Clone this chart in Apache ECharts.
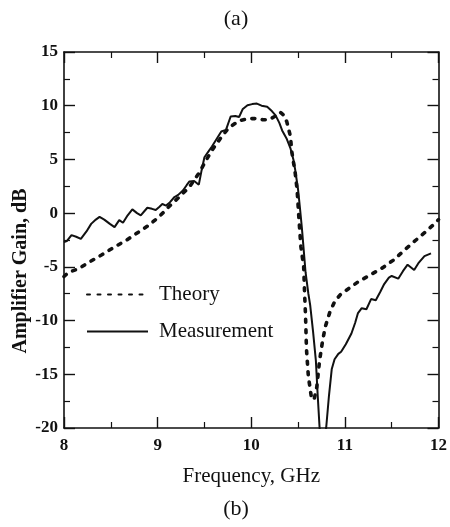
<!DOCTYPE html>
<html>
<head>
<meta charset="utf-8">
<script src="https://cdn.jsdelivr.net/npm/echarts@6/dist/echarts.min.js"></script>
<style>html,body{margin:0;padding:0;background:#fff}#c{width:450px;height:527px}</style>
</head>
<body>
<div id="c"></div>
<script>
// Frequency (GHz) / gain (dB)
var theoryFreq = [8.0,8.05,8.15,8.28,8.4,8.53,8.67,8.79,8.91,9.02,9.12,9.23,9.34,9.44,9.51,9.58,9.67,9.76,9.87,9.97,10.05,10.12,10.19,10.25,10.31,10.35,10.38,10.42,10.43,10.47,10.49,10.51,10.53,10.56,10.57,10.58,10.59,10.61,10.64,10.67,10.70,10.73,10.76,10.79,10.84,10.89,10.95,11.02,11.14,11.28,11.4,11.53,11.64,11.74,11.88,11.98,12.0];
var theoryGain = [-5.9,-5.5,-5.2,-4.5,-3.9,-3.2,-2.5,-1.8,-1.1,-0.3,0.6,1.5,2.45,3.7,4.8,5.85,6.95,7.95,8.6,8.8,8.8,8.7,8.7,9.0,9.4,9.1,8.5,7.1,5.9,3.7,2.15,-0.6,-3.1,-5.0,-7.5,-9.6,-12.7,-15.2,-17.0,-17.4,-16.2,-13.7,-12.0,-10.6,-9.2,-8.25,-7.6,-7.15,-6.4,-5.7,-5.1,-4.3,-3.4,-2.65,-1.6,-0.8,-0.6];

var measFreq = [8.0,8.03,8.08,8.13,8.18,8.24,8.29,8.34,8.38,8.43,8.49,8.54,8.59,8.63,8.68,8.73,8.78,8.82,8.86,8.89,8.94,8.98,9.02,9.05,9.09,9.13,9.18,9.22,9.27,9.31,9.34,9.39,9.44,9.47,9.5,9.54,9.58,9.63,9.68,9.73,9.78,9.83,9.87,9.91,9.96,10.01,10.06,10.11,10.17,10.22,10.26,10.3,10.33,10.38,10.42,10.45,10.47,10.5,10.52,10.54,10.56,10.58,10.61,10.63,10.66,10.69,10.71,10.73,10.75,10.78,10.80,10.83,10.86,10.89,10.93,10.96,11.01,11.07,11.11,11.14,11.18,11.23,11.28,11.33,11.38,11.42,11.47,11.5,11.57,11.62,11.67,11.74,11.79,11.85,11.92];
var measGain = [-2.7,-2.6,-2.05,-2.2,-2.4,-1.7,-1.0,-0.6,-0.35,-0.6,-1.0,-1.3,-0.65,-0.9,-0.2,0.35,0.0,-0.2,0.2,0.5,0.4,0.3,0.6,0.85,0.7,1.0,1.5,1.7,2.1,2.6,2.95,3.0,2.65,4.0,5.2,5.7,6.2,6.9,7.6,7.75,9.0,9.05,8.95,9.7,10.05,10.15,10.2,10.0,9.9,9.5,9.1,8.4,7.7,6.9,6.0,5.0,4.0,2.2,0.5,-1.3,-3.4,-5.5,-7.5,-8.6,-11.0,-13.7,-17.0,-20.0,-21.0,-21.0,-20.0,-17.0,-14.5,-13.6,-13.1,-12.9,-12.2,-11.2,-10.2,-9.3,-8.85,-8.95,-8.0,-8.1,-7.3,-6.6,-6.0,-5.85,-6.1,-5.4,-4.8,-5.3,-4.6,-4.0,-3.75];

var seriesNames = ['Theory', 'Measurement'];
var xTicks = [8, 9, 10, 11, 12];
var yTicks = [-20, -15, -10, -5, 0, 5, 10, 15];

function pairs(xs, ys) { return xs.map(function (x, i) { return [x, ys[i]]; }); }

var serif = 'Liberation Serif';
var ink = '#111';

var axisCommon = {
  type: 'value',
  axisLine: { show: true, onZero: false, lineStyle: { color: ink, width: 1.6 } },
  axisTick: { show: true, inside: true, length: 11, lineStyle: { color: ink, width: 1.4 } },
  minorTick: { show: true, splitNumber: 2, length: 6, lineStyle: { color: ink, width: 1.2 } },
  splitLine: { show: false },
  minorSplitLine: { show: false }
};

var chart = echarts.init(document.getElementById('c'), null, { renderer: 'canvas' });
chart.setOption({
  backgroundColor: '#fff',
  animation: false,
  textStyle: { fontFamily: serif },
  grid: { left: 64, right: 9, top: 52, bottom: 99, containLabel: false },
  xAxis: [
    Object.assign({}, axisCommon, {
      position: 'bottom', min: xTicks[0], max: xTicks[xTicks.length - 1], interval: 1,
      name: 'Frequency, GHz', nameLocation: 'middle', nameGap: 38,
      nameTextStyle: { fontFamily: serif, fontSize: 21, color: ink },
      axisLabel: { margin: 9, fontFamily: serif, fontSize: 17, fontWeight: 'bold', color: ink }
    }),
    Object.assign({}, axisCommon, {
      position: 'top', min: xTicks[0], max: xTicks[xTicks.length - 1], interval: 1,
      axisLabel: { show: false }
    })
  ],
  yAxis: [
    Object.assign({}, axisCommon, {
      position: 'left', min: yTicks[0], max: yTicks[yTicks.length - 1], interval: 5,
      axisLabel: { margin: 6, fontFamily: serif, fontSize: 17, fontWeight: 'bold', color: ink }
    }),
    Object.assign({}, axisCommon, {
      position: 'right', min: yTicks[0], max: yTicks[yTicks.length - 1], interval: 5,
      axisLabel: { show: false }
    })
  ],
  legend: {
    orient: 'vertical', left: 86, top: 284, padding: 0,
    itemWidth: 61, itemHeight: 14, itemGap: 16,
    itemStyle: { opacity: 0 },
    textStyle: { fontFamily: serif, fontSize: 21, color: ink, padding: [0, 0, 0, 6] },
    data: seriesNames
  },
  graphic: [
    { type: 'text', x: 236, y: 19, style: { text: '(a)', font: '22px "Liberation Serif"', fill: ink, textAlign: 'center', textVerticalAlign: 'middle' } },
    { type: 'text', x: 236, y: 509, style: { text: '(b)', font: '22px "Liberation Serif"', fill: ink, textAlign: 'center', textVerticalAlign: 'middle' } },
    { type: 'text', x: 21, y: 271, rotation: Math.PI / 2, style: { text: 'Amplifier Gain, dB', font: 'bold 20px "Liberation Serif"', fill: ink, textAlign: 'center', textVerticalAlign: 'middle' } }
  ],
  series: [
    {
      name: seriesNames[0], type: 'line', data: pairs(theoryFreq, theoryGain),
      showSymbol: false, symbol: 'none', clip: true,
      lineStyle: { color: ink, width: 3.6, type: [3, 7.5], cap: 'round' },
      itemStyle: { color: ink }
    },
    {
      name: seriesNames[1], type: 'line', data: pairs(measFreq, measGain),
      showSymbol: false, symbol: 'none', clip: true,
      lineStyle: { color: ink, width: 2 },
      itemStyle: { color: ink }
    }
  ]
});
</script>
</body>
</html>
